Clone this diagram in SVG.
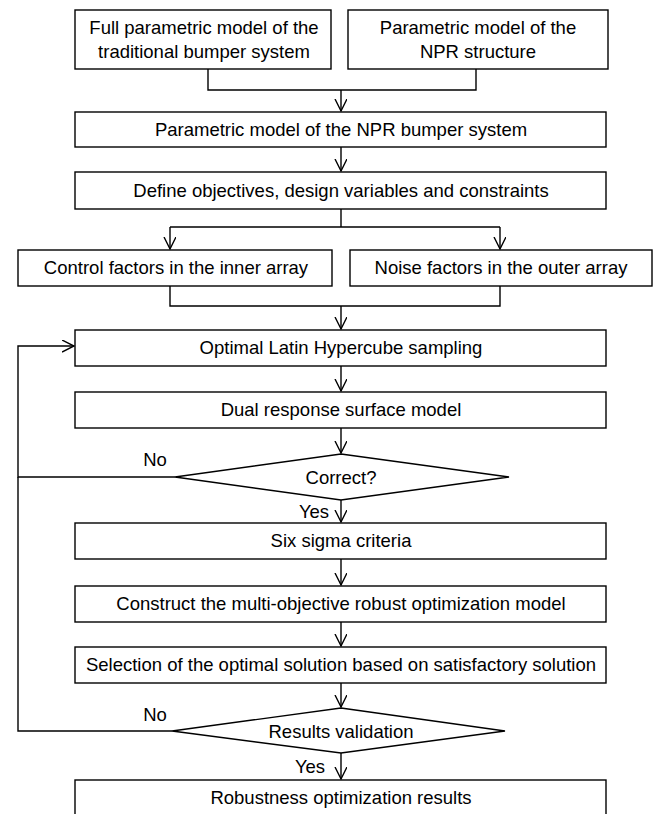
<svg xmlns="http://www.w3.org/2000/svg" width="657" height="814" viewBox="0 0 657 814">
<style>
.box{fill:#fff;stroke:#000;stroke-width:1.4}
.t{font-family:"Liberation Sans",Arial,sans-serif;font-size:18.5px;fill:#000;text-anchor:middle}
.l{font-family:"Liberation Sans",Arial,sans-serif;font-size:18.5px;fill:#000;text-anchor:middle}
.c{fill:none;stroke:#000;stroke-width:1.4}
</style>
<defs>
<marker id="ah" markerWidth="14" markerHeight="14" refX="12" refY="6" orient="auto" markerUnits="userSpaceOnUse">
<path d="M0,0 L12,6 L0,12" fill="none" stroke="#000" stroke-width="1.4"/>
</marker>
</defs>
<rect width="657" height="814" fill="#fff"/>
<g id="connectors">
<path class="c" d="M208,69 V90 H476 V69"/>
<path class="c" d="M341,90 V111" marker-end="url(#ah)"/>
<path class="c" d="M341,147 V171" marker-end="url(#ah)"/>
<path class="c" d="M341,209 V227 M170,227 H500"/>
<path class="c" d="M170,227 V249" marker-end="url(#ah)"/>
<path class="c" d="M500,227 V249" marker-end="url(#ah)"/>
<path class="c" d="M170,286 V306 H500 V286"/>
<path class="c" d="M341,306 V329" marker-end="url(#ah)"/>
<path class="c" d="M341,366 V391" marker-end="url(#ah)"/>
<path class="c" d="M341,428 V453" marker-end="url(#ah)"/>
<path class="c" d="M341,500 V522" marker-end="url(#ah)"/>
<path class="c" d="M341,559 V585" marker-end="url(#ah)"/>
<path class="c" d="M341,622 V646" marker-end="url(#ah)"/>
<path class="c" d="M341,683 V707" marker-end="url(#ah)"/>
<path class="c" d="M341,753 V779" marker-end="url(#ah)"/>
<path class="c" d="M175,477 H18 V346 H74" marker-end="url(#ah)"/>
<path class="c" d="M172,731 H18 V477"/>
<text class="l" x="155" y="466">No</text>
<text class="l" x="314" y="518">Yes</text>
<text class="l" x="155" y="721">No</text>
<text class="l" x="310" y="773">Yes</text>
</g>
<g id="n1">
<rect class="box" x="75" y="10" width="256" height="59"/>
<text class="t" x="204" y="34">Full  parametric model of the</text>
<text class="t" x="204" y="58">traditional bumper system</text>
</g>
<g id="n2">
<rect class="box" x="348" y="10" width="260" height="59"/>
<text class="t" x="478" y="34">Parametric model of the</text>
<text class="t" x="478" y="58">NPR structure</text>
</g>
<g id="n3">
<rect class="box" x="75" y="112" width="531" height="35"/>
<text class="t" x="341" y="136">Parametric model of the NPR bumper system</text>
</g>
<g id="n4">
<rect class="box" x="75" y="172" width="531" height="37"/>
<text class="t" x="341" y="197">Define objectives, design variables and constraints</text>
</g>
<g id="n5">
<rect class="box" x="18" y="250" width="314" height="36"/>
<text class="t" x="176" y="274">Control factors in the inner array</text>
</g>
<g id="n6">
<rect class="box" x="350" y="250" width="302" height="36"/>
<text class="t" x="501" y="274">Noise factors in the outer array</text>
</g>
<g id="n7">
<rect class="box" x="75" y="330" width="531" height="36"/>
<text class="t" x="341" y="354">Optimal Latin Hypercube sampling</text>
</g>
<g id="n8">
<rect class="box" x="75" y="392" width="531" height="36"/>
<text class="t" x="341" y="416">Dual response surface model</text>
</g>
<g id="n9">
<polygon class="box" points="341,454 509,477 341,500 175,477"/>
<text class="t" x="341" y="484">Correct?</text>
</g>
<g id="n10">
<rect class="box" x="75" y="523" width="531" height="36"/>
<text class="t" x="341" y="547">Six sigma criteria</text>
</g>
<g id="n11">
<rect class="box" x="75" y="586" width="531" height="36"/>
<text class="t" x="341" y="610">Construct the multi-objective robust  optimization model</text>
</g>
<g id="n12">
<rect class="box" x="75" y="647" width="531" height="36"/>
<text class="t" x="341" y="671">Selection of the optimal solution based on satisfactory solution</text>
</g>
<g id="n13">
<polygon class="box" points="341,708 505,731 341,753 172,731"/>
<text class="t" x="341" y="738">Results validation</text>
</g>
<g id="n14">
<rect class="box" x="75" y="780" width="531" height="40"/>
<text class="t" x="341" y="804">Robustness optimization results</text>
</g>
</svg>
